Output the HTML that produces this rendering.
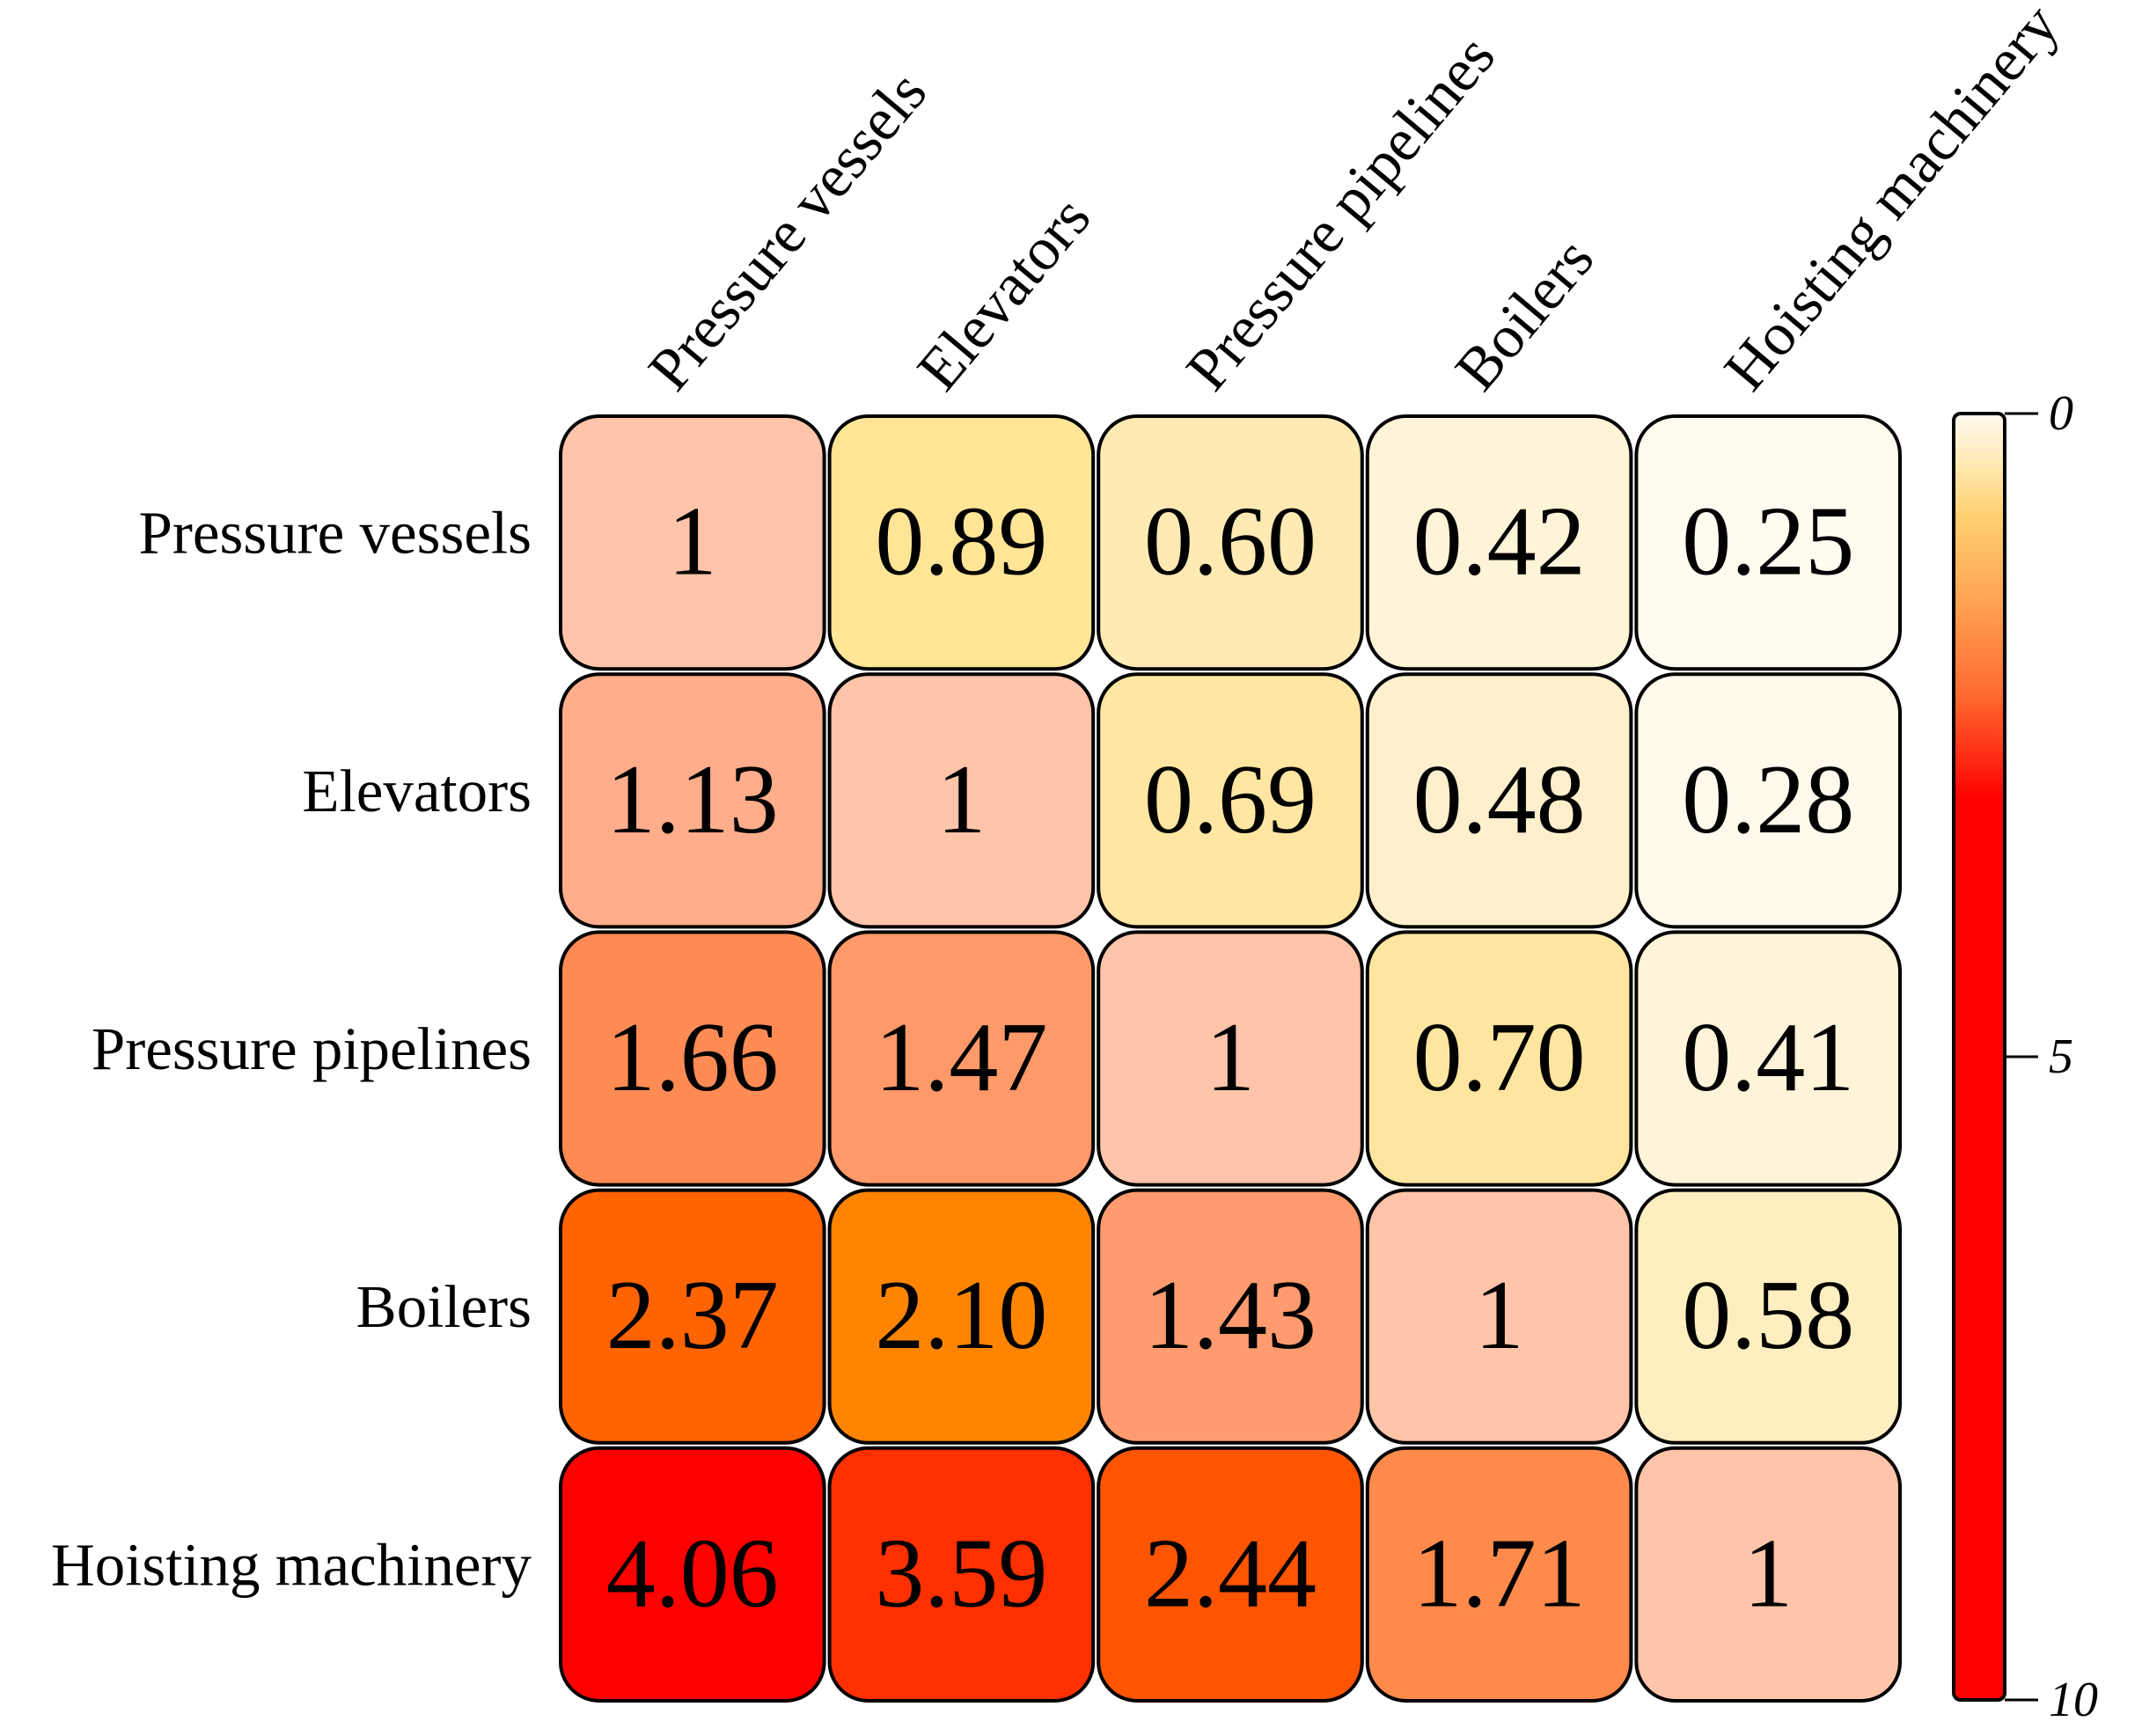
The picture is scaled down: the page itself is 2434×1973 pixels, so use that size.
<!DOCTYPE html>
<html><head><meta charset="utf-8"><style>
html,body{margin:0;padding:0;background:#fff;}
svg{display:block;}
text{font-family:"Liberation Serif",serif;fill:#000;}
</style></head><body>
<svg id="chart" width="2434" height="1973" viewBox="0 0 2434 1973">
<defs>
<linearGradient id="cbgrad" x1="0" y1="0" x2="0" y2="1">
<stop offset="0" stop-color="#fffaf2"/>
<stop offset="0.04" stop-color="#ffe9b0"/>
<stop offset="0.08" stop-color="#ffd070"/>
<stop offset="0.15" stop-color="#ffa050"/>
<stop offset="0.22" stop-color="#ff6a30"/>
<stop offset="0.30" stop-color="#ff0000"/>
<stop offset="1" stop-color="#ff0000"/>
</linearGradient>
</defs>
<g id="cells"></g>
<g id="rowLabels"></g>
<g id="colLabels"></g>
<g id="colorbar"></g>
</svg>
<script>
const categories = ["Pressure vessels","Elevators","Pressure pipelines","Boilers","Hoisting machinery"];
const row0 = [1, 0.89, 0.60, 0.42, 0.25];
const row1 = [1.13, 1, 0.69, 0.48, 0.28];
const row2 = [1.66, 1.47, 1, 0.70, 0.41];
const row3 = [2.37, 2.10, 1.43, 1, 0.58];
const row4 = [4.06, 3.59, 2.44, 1.71, 1];
const cbTicks = [0, 5, 10];
const cbTickLabels = ["0","5","10"];

const rows = [row0,row1,row2,row3,row4];
const NS = "http://www.w3.org/2000/svg";
const gridL = 634, gridT = 470, colW = 305.6, rowH = 293.2;
const xScale = i => gridL + i*colW;
const yScale = j => gridT + j*rowH;
const cbX = 2220, cbW = 58, cbTop = 470, cbBot = 1932, cbMin = 0, cbMax = 10;
const cbScale = v => cbTop + (v-cbMin)/(cbMax-cbMin)*(cbBot-cbTop);

const stops = [[0.25,[255,251,240]],[0.42,[255,243,216]],[0.48,[255,239,204]],[0.58,[255,239,192]],[0.60,[255,234,180]],[0.70,[255,230,160]],[0.89,[255,229,149]],
  [0.999,[255,229,149]],[1,[255,196,169]],[1.13,[255,173,138]],[1.45,[255,154,108]],[1.68,[255,138,82]],[2.10,[255,133,0]],[2.40,[255,96,0]],[2.44,[255,85,0]],[3.59,[255,48,0]],[4.06,[255,0,0]]];
function colorFor(v){
  if(v<=stops[0][0]) return rgb(stops[0][1]);
  for(let k=1;k<stops.length;k++){
    if(v<=stops[k][0]){
      const a=stops[k-1],b=stops[k];const t=(v-a[0])/(b[0]-a[0]);
      return rgb(a[1].map((c,i)=>Math.round(c+(b[1][i]-c)*t)));
    }
  }
  return rgb(stops[stops.length-1][1]);
}
function rgb(a){return `rgb(${a[0]},${a[1]},${a[2]})`;}
function fmt(v){return v===1?"1":v.toFixed(2);}
function mk(tag,attrs,parent){const e=document.createElementNS(NS,tag);for(const k in attrs)e.setAttribute(k,attrs[k]);parent.appendChild(e);return e;}

const cellsG=document.getElementById('cells');
rows.forEach((r,j)=>{
  r.forEach((v,i)=>{
    const rect=mk('rect',{x:xScale(i)+3,y:yScale(j)+3,width:colW-6,height:rowH-6,rx:44,ry:44,fill:colorFor(v),stroke:'#000','stroke-width':4},cellsG);
    
    
    const t=mk('text',{x:xScale(i)+colW/2,y:yScale(j)+rowH/2+36,'text-anchor':'middle','font-size':112},cellsG);
    t.textContent=fmt(v);
    
    
  });
});
const rl=document.getElementById('rowLabels');
categories.forEach((c,j)=>{
  const t=mk('text',{x:604,y:yScale(j)+rowH/2+12,'text-anchor':'end','font-size':69},rl);
  t.textContent=c;
  
  
});
const cl=document.getElementById('colLabels');
categories.forEach((c,i)=>{
  const x=xScale(i)+colW/2-18, y=448;
  const t=mk('text',{x:x,y:y,'font-size':69,transform:`rotate(-50 ${x} ${y})`},cl);
  t.textContent=c;
  
  
});
const cb=document.getElementById('colorbar');
const bar=mk('rect',{x:cbX,y:cbTop,width:cbW,height:cbBot-cbTop,rx:8,ry:8,fill:'url(#cbgrad)',stroke:'#000','stroke-width':4},cb);


cbTicks.forEach((v,k)=>{
  const y=cbScale(v);
  const ln=mk('line',{x1:cbX+cbW,x2:cbX+cbW+38,y1:y,y2:y,stroke:'#000','stroke-width':3},cb);
  
  
  const t=mk('text',{x:cbX+cbW+50,y:y+18,'font-size':56,'font-style':'italic'},cb);
  t.textContent=cbTickLabels[k];
  
  
});
</script>
</body></html>
